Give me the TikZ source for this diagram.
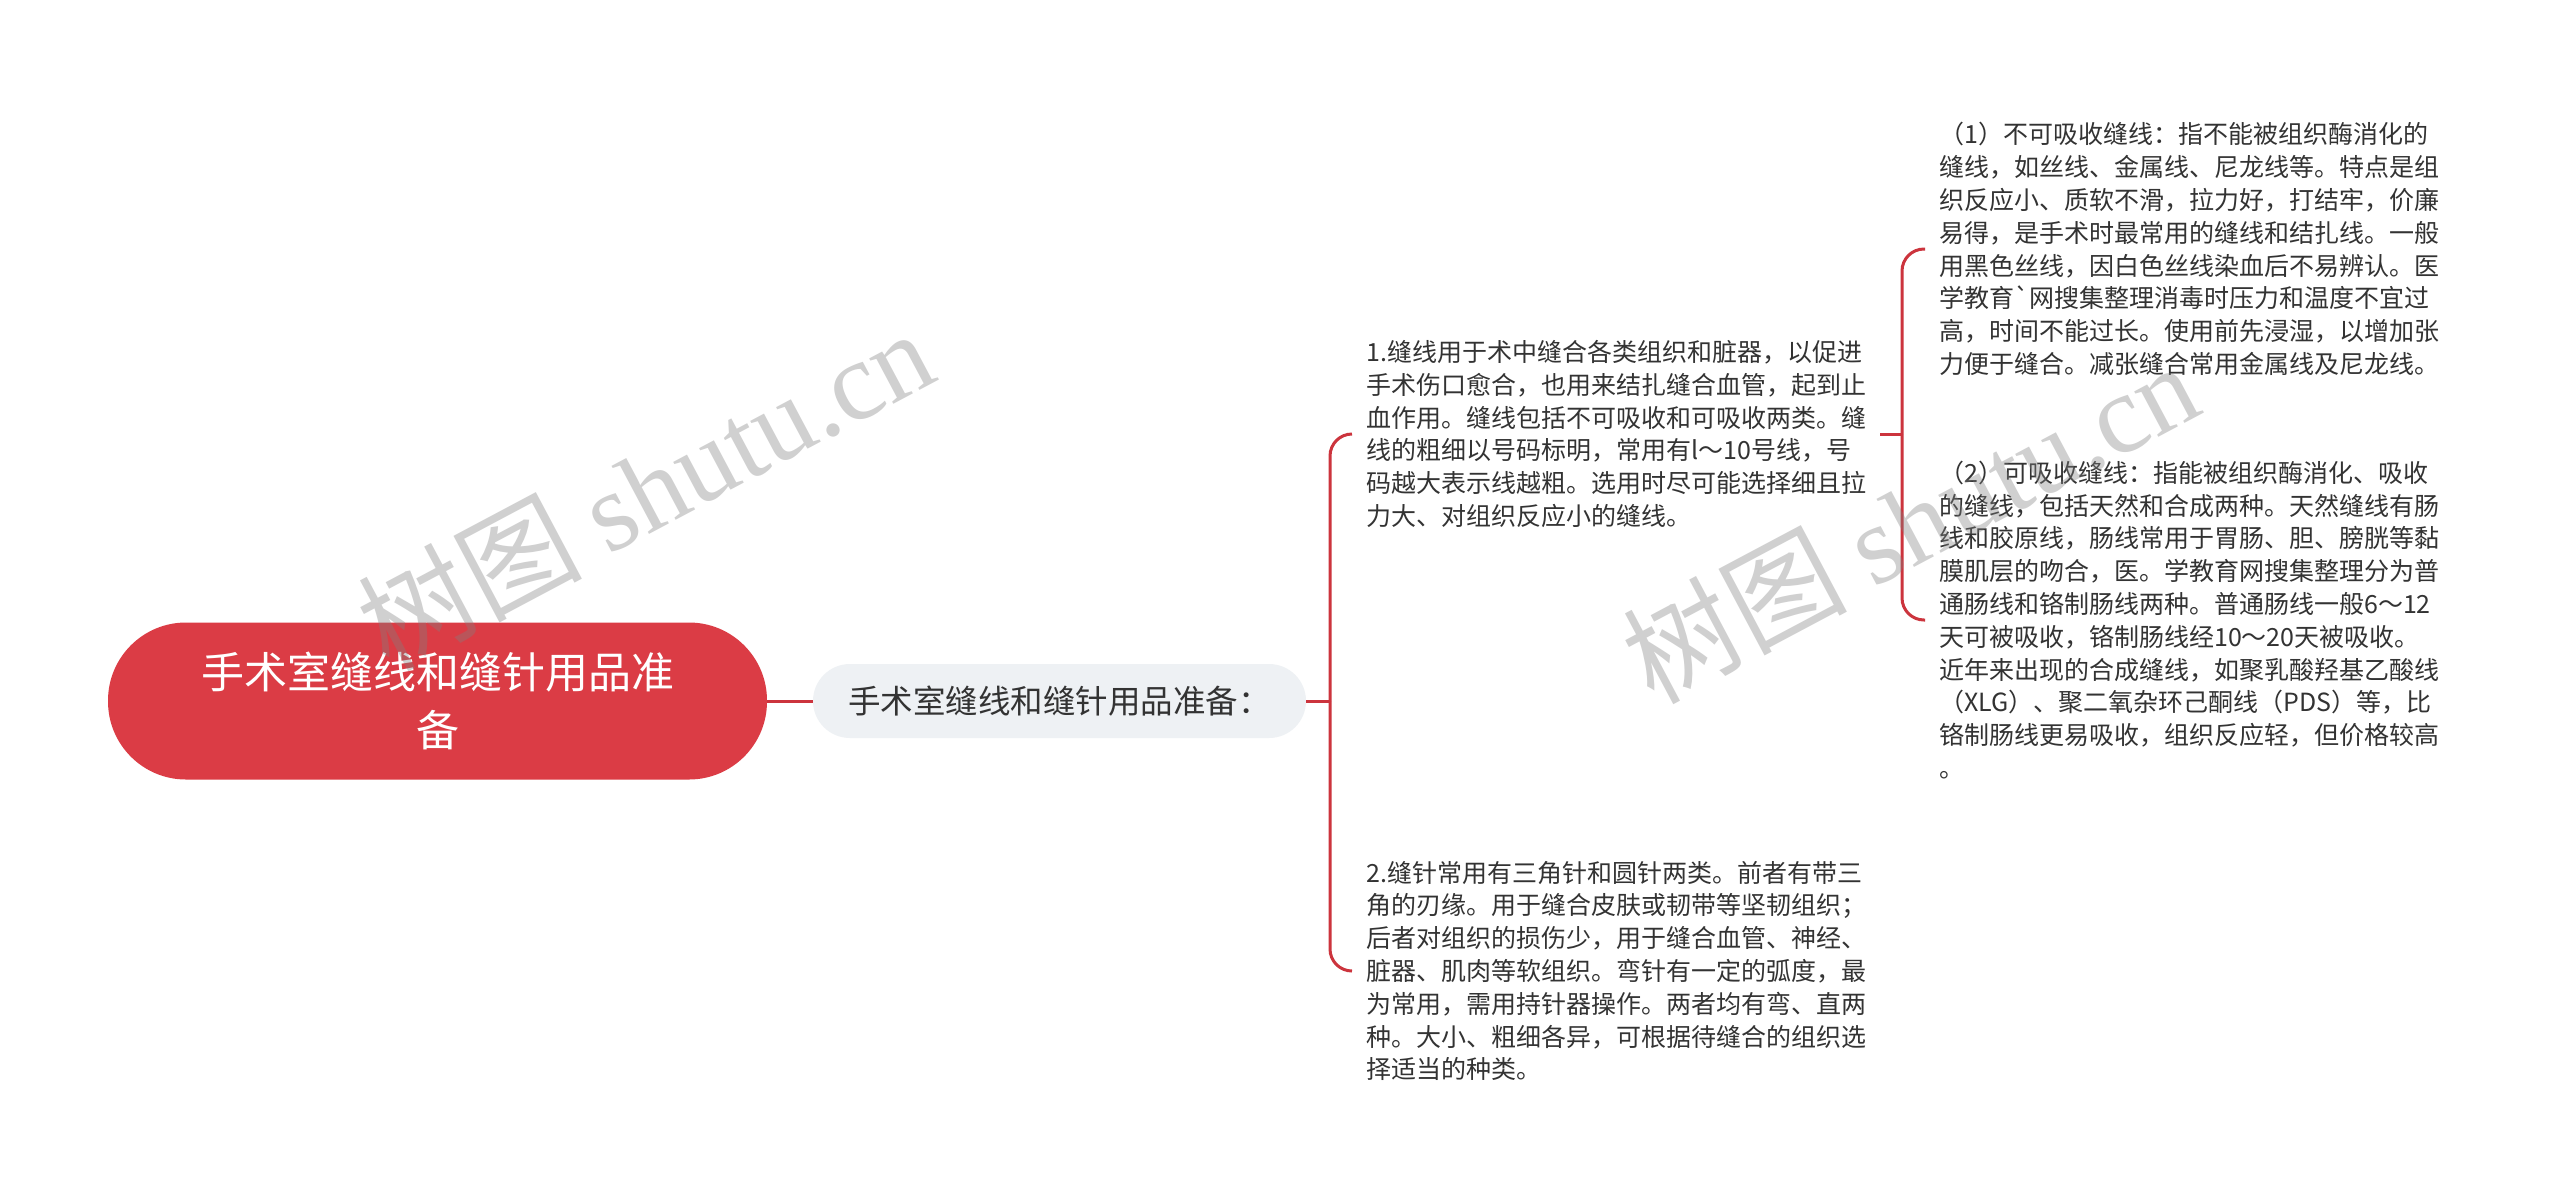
\documentclass[tikz,border=0pt]{standalone}
\usepackage{fontspec}
\newfontfamily\cjk{Noto Sans CJK SC}
\newfontfamily\wmserif{Liberation Serif}
\definecolor{rootred}{HTML}{DB3C45}
\definecolor{linered}{HTML}{CC343D}
\definecolor{subgray}{HTML}{EEF1F4}
\definecolor{txt}{HTML}{333333}
\begin{document}
\begin{tikzpicture}[x=1pt,y=-1pt,
 rootnode/.style={fill=rootred, rounded corners=78pt, minimum width=659pt, minimum height=157pt, text=white, align=center, font=\cjk\fontsize{43}{58}\selectfont, inner sep=0pt},
 subnode/.style={fill=subgray, rounded corners=37pt, minimum width=493pt, minimum height=74pt, text=txt, font=\cjk\fontsize{32.5}{38}\selectfont, inner sep=0pt},
 leaf/.style={anchor=west, text width=500pt, align=left, inner xsep=14pt, inner ysep=6pt, text=txt, font=\cjk\fontsize{25}{32.8}\selectfont},
 conn/.style={draw=linered, line width=3pt, rounded corners=22pt},
 wm/.style={text=black!50, text opacity=0.37, rotate=28, font=\fontsize{112}{120}\selectfont, inner sep=0pt}]
\fill[white] (0,0) rectangle (2560,1203);
\useasboundingbox (0,0) rectangle (2560,1203);

\node[rootnode] (root) at (437.5,701) {手术室缝线和缝针用品准\\备};
\node[subnode] (sub) at (1059.5,701) {手术室缝线和缝针用品准备：};

\node[leaf] (t1) at (1352,434) {1.缝线用于术中缝合各类组织和脏器，以促进\\
手术伤口愈合，也用来结扎缝合血管，起到止\\
血作用。缝线包括不可吸收和可吸收两类。缝\\
线的粗细以号码标明，常用有l～10号线，号\\
码越大表示线越粗。选用时尽可能选择细且拉\\
力大、对组织反应小的缝线。};

\node[leaf] (t2) at (1352,971) {2.缝针常用有三角针和圆针两类。前者有带三\\
角的刃缘。用于缝合皮肤或韧带等坚韧组织；\\
后者对组织的损伤少，用于缝合血管、神经、\\
脏器、肌肉等软组织。弯针有一定的弧度，最\\
为常用，需用持针器操作。两者均有弯、直两\\
种。大小、粗细各异，可根据待缝合的组织选\\
择适当的种类。};

\node[leaf] (t3) at (1925,249) {（1）不可吸收缝线：指不能被组织酶消化的\\
缝线，如丝线、金属线、尼龙线等。特点是组\\
织反应小、质软不滑，拉力好，打结牢，价廉\\
易得，是手术时最常用的缝线和结扎线。一般\\
用黑色丝线，因白色丝线染血后不易辨认。医\\
学教育`网搜集整理消毒时压力和温度不宜过\\
高，时间不能过长。使用前先浸湿，以增加张\\
力便于缝合。减张缝合常用金属线及尼龙线。};

\node[leaf] (t4) at (1925,620) {（2）可吸收缝线：指能被组织酶消化、吸收\\
的缝线，包括天然和合成两种。天然缝线有肠\\
线和胶原线，肠线常用于胃肠、胆、膀胱等黏\\
膜肌层的吻合，医。学教育网搜集整理分为普\\
通肠线和铬制肠线两种。普通肠线一般6～12\\
天可被吸收，铬制肠线经10～20天被吸收。\\
近年来出现的合成缝线，如聚乳酸羟基乙酸线\\
（XLG）、聚二氧杂环己酮线（PDS）等，比\\
铬制肠线更易吸收，组织反应轻，但价格较高\\
。};

\coordinate (j1) at (1330,701);
\coordinate (j2) at (1902,434);
\draw[conn] (root.east) -- (sub.west);
\draw[conn] (sub.east) -- (j1);
\draw[conn] (j1) |- (t1.west);
\draw[conn] (j1) |- (t2.west);
\draw[conn] (t1.east) -- (j2);
\draw[conn] (j2) |- (t3.west);
\draw[conn] (j2) |- (t4.west);

\node[wm] (wm1) at (645,488) {\cjk 树图 \wmserif shutu.cn};
\node[wm] (wm2) at (1910,521) {\cjk 树图 \wmserif shutu.cn};
\end{tikzpicture}
\end{document}
